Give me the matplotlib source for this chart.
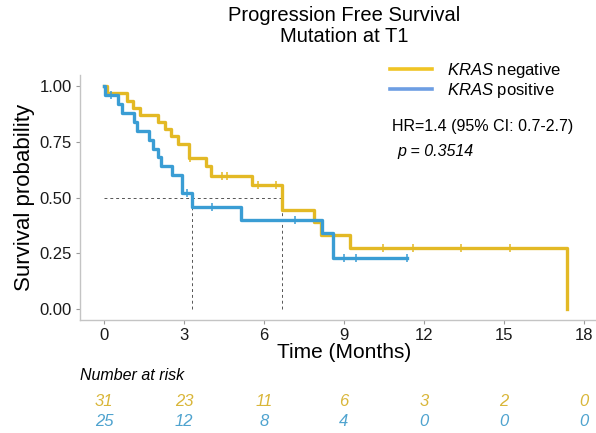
import matplotlib
matplotlib.use("Agg")
import matplotlib.pyplot as plt
from matplotlib.lines import Line2D
from matplotlib.transforms import blended_transform_factory

plt.rcParams['font.family'] = ['Liberation Sans', 'DejaVu Sans']
plt.rcParams['mathtext.fontset'] = 'custom'
plt.rcParams['mathtext.rm'] = 'Liberation Sans'
plt.rcParams['mathtext.it'] = 'Liberation Sans:italic'

# step curves (time in months, survival probability)
neg_time = [0, 0.1, 0.85, 1.09, 1.35, 2.02, 2.28, 2.5, 2.77, 3.18, 3.82, 4.0, 5.55, 6.68, 7.87, 8.12, 9.21, 17.37, 17.37]
neg_surv = [1.0, 0.968, 0.935, 0.903, 0.871, 0.839, 0.806, 0.774, 0.742, 0.677, 0.64, 0.598, 0.555, 0.445, 0.39, 0.33, 0.274, 0.274, 0.0]
neg_cens_t = [3.22, 4.41, 4.6, 5.79, 6.45, 10.47, 11.57, 13.37, 15.22]
neg_cens_s = [0.677, 0.598, 0.598, 0.555, 0.555, 0.274, 0.274, 0.274, 0.274]

pos_time = [0, 0.04, 0.54, 0.66, 1.14, 1.23, 1.7, 1.83, 2.04, 2.13, 2.54, 2.94, 3.31, 5.14, 8.18, 8.57, 11.37]
pos_surv = [1.0, 0.96, 0.92, 0.88, 0.84, 0.80, 0.76, 0.72, 0.68, 0.64, 0.60, 0.52, 0.457, 0.40, 0.342, 0.229, 0.229]
pos_cens_t = [0.25, 3.1, 4.06, 7.17, 9.0, 9.44, 11.37]
pos_cens_s = [0.96, 0.52, 0.457, 0.40, 0.229, 0.229, 0.229]

medians = [3.31, 6.68]

risk_times = [0, 3, 6, 9, 12, 15, 18]
risk_neg = [31, 23, 11, 6, 3, 2, 0]
risk_pos = [25, 12, 8, 4, 0, 0, 0]

c_neg = '#E3B925'
c_pos = '#3A9DD4'

W, H = 596, 433
fig = plt.figure(figsize=(W / 100, H / 100), dpi=100)
ax = fig.add_axes([80 / W, 1 - 320 / H, 528 / W, 245 / H])

# median guide lines
ax.plot([0, max(medians)], [0.5, 0.5], color='#555555', lw=0.7, ls=(0, (3, 3)))
for m in medians:
    ax.plot([m, m], [0, 0.5], color='#555555', lw=0.7, ls=(0, (3, 3)))

ax.step(neg_time, neg_surv, where='post', color=c_neg, lw=2.4)
ax.step(pos_time, pos_surv, where='post', color=c_pos, lw=2.4)
ax.plot(neg_cens_t, neg_cens_s, ls='none', marker='|', ms=6, mew=1.1, color=c_neg)
ax.plot(pos_cens_t, pos_cens_s, ls='none', marker='|', ms=6, mew=1.1, color=c_pos)

ax.set_xlim(-0.9, 18.9)
ax.set_ylim(-0.05, 1.05)
ax.set_xticks(risk_times)
ax.set_yticks([0, 0.25, 0.5, 0.75, 1.0])
ax.set_yticklabels(['0.00', '0.25', '0.50', '0.75', '1.00'])
for s in ['top', 'right']:
    ax.spines[s].set_visible(False)
for s in ['left', 'bottom']:
    ax.spines[s].set_color('#c4c4c4')
    ax.spines[s].set_linewidth(1.0)
ax.tick_params(length=3, width=0.8, color='#9a9a9a', labelsize=12, labelcolor='#1a1a1a', pad=3)

ax.set_xlabel('Time (Months)', fontsize=15, labelpad=0)
ax.set_ylabel('Survival probability', fontsize=16, labelpad=3)

fig.text(344 / W, 1 - 6 / H, 'Progression Free Survival\nMutation at T1', ha='center', va='top',
         fontsize=14.5, linespacing=1.15)

handles = [Line2D([], [], color='#F0C424', lw=2.6), Line2D([], [], color='#6D9EE3', lw=2.6)]
fig.legend(handles, [r'$\it{KRAS}$ negative', r'$\it{KRAS}$ positive'], loc='upper left',
           bbox_to_anchor=(390 / W, 1 - 61 / H), frameon=False, fontsize=12, handlelength=2.5,
           handletextpad=0.9, labelspacing=0.05, borderpad=0, borderaxespad=0)

fig.text(392 / W, 1 - 127 / H, 'HR=1.4 (95% CI: 0.7-2.7)', ha='left', va='center', fontsize=11.5)
fig.text(397 / W, 1 - 151 / H, 'p = 0.3514', ha='left', va='center', fontsize=11.5, style='italic')

# number at risk table
tr = blended_transform_factory(ax.transData, fig.transFigure)
fig.text(80 / W, 1 - 376 / H, 'Number at risk', ha='left', va='center', fontsize=11.5, style='italic')
for t, a, b in zip(risk_times, risk_neg, risk_pos):
    ax.text(t, 1 - 402 / H, str(a), transform=tr, ha='center', va='center', fontsize=12,
            style='italic', color='#D9B639', clip_on=False)
    ax.text(t, 1 - 421 / H, str(b), transform=tr, ha='center', va='center', fontsize=12,
            style='italic', color='#4FA3CF', clip_on=False)

fig.savefig('out.png', dpi=100)
